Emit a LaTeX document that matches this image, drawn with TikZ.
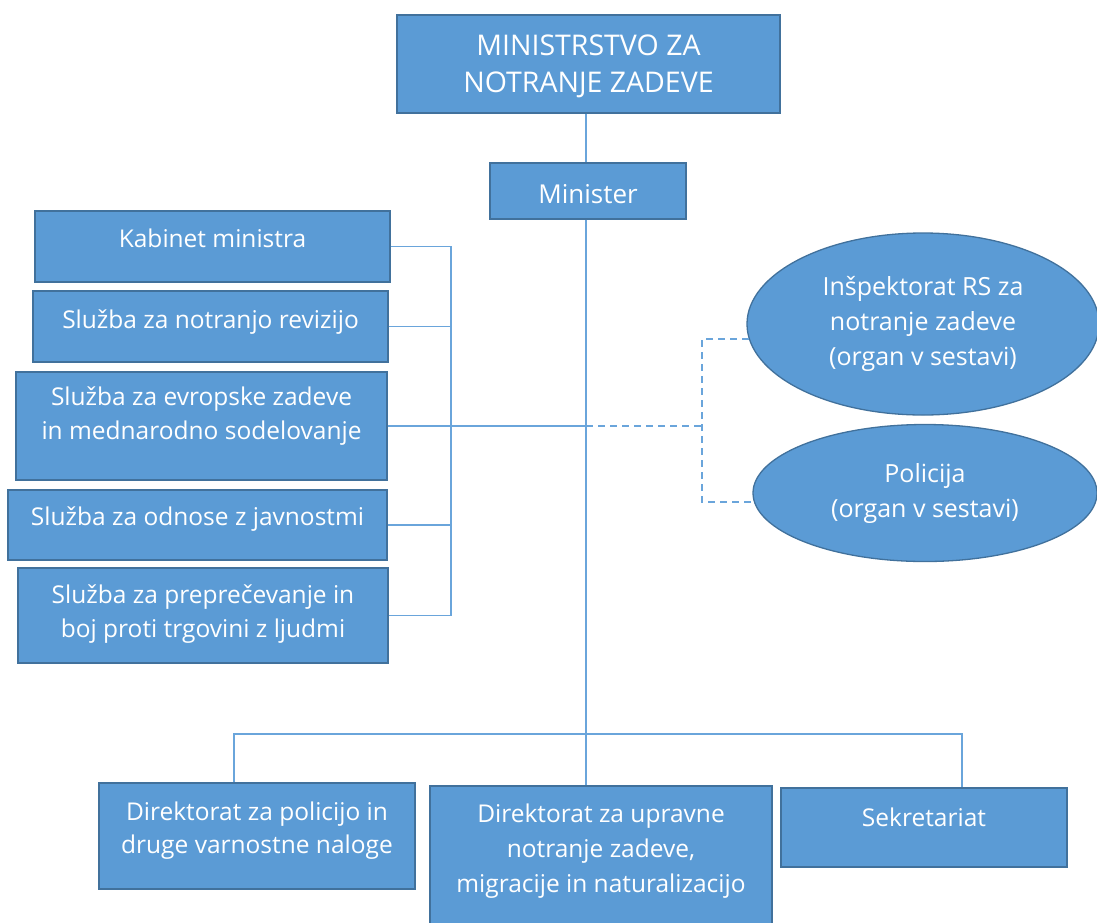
\documentclass[tikz,border=0pt]{standalone}
\usepackage{fontspec}
\setmainfont{Open Sans}
\usetikzlibrary{shapes.geometric}
\definecolor{boxfill}{HTML}{5B9BD5}
\definecolor{boxline}{HTML}{41719C}
\definecolor{connline}{HTML}{6AA5DB}
\newcommand\bxt[4]{\parbox[c][#2][t]{#1}{\centering\rule{0pt}{#3}#4}}
\tikzset{
  orgbox/.style={draw=boxline, line width=1.3pt, fill=boxfill, text=white, inner sep=0pt, rectangle},
  orgell/.style={draw=boxline, line width=1.3pt, fill=boxfill, text=white, inner sep=0pt, ellipse, align=center, font=\fontsize{25}{35}\selectfont},
  small/.style={font=\fontsize{24.5}{34}\selectfont},
  conn/.style={draw=connline, line width=1.8pt},
  dsh/.style={draw=connline, line width=1.8pt, dash pattern=on 7pt off 5pt}
}
\begin{document}
\begin{tikzpicture}[x=1pt,y=-1pt]
\useasboundingbox (0,0) rectangle (1097,922);
\clip (0,0) rectangle (1097,922);
% nodes
\node[orgbox, font=\fontsize{28.5}{37}\selectfont] (top) at (588.5,64) {\bxt{383pt}{98pt}{40pt}{MINISTRSTVO ZA\\NOTRANJE ZADEVE}};
\node[orgbox, font=\fontsize{26}{34}\selectfont] (min) at (588,191) {\bxt{196pt}{56pt}{40pt}{Minister}};
\node[orgbox, small] (k1) at (212.5,246.5) {\bxt{355pt}{71pt}{36pt}{Kabinet ministra}};
\node[orgbox, small] (k2) at (210.5,326.5) {\bxt{355pt}{71pt}{37pt}{Služba za notranjo revizijo}};
\node[orgbox, small] (k3) at (201.5,426) {\bxt{371pt}{108pt}{33pt}{Služba za evropske zadeve\\in mednarodno sodelovanje}};
\node[orgbox, small] (k4) at (197.5,525) {\bxt{379pt}{70pt}{35pt}{Služba za odnose z javnostmi}};
\node[orgbox, small] (k5) at (203,615.5) {\bxt{370pt}{95pt}{35pt}{Služba za preprečevanje in\\boj proti trgovini z ljudmi}};
\node[orgbox, font=\fontsize{24.5}{33}\selectfont] (b1) at (257,836) {\bxt{316pt}{106pt}{37pt}{Direktorat za policijo in\\druge varnostne naloge}};
\node[orgbox, font=\fontsize{24.5}{35}\selectfont] (b2) at (601,858) {\bxt{342pt}{144pt}{36pt}{Direktorat za upravne\\notranje zadeve,\\migracije in naturalizacijo}};
\node[orgbox, small] (b3) at (924,827.5) {\bxt{286pt}{79pt}{38pt}{Sekretariat}};
\node[orgell, minimum width=352pt, minimum height=182pt] (e1) at (923,324) {Inšpektorat RS za\\notranje zadeve\\(organ v sestavi)};
\node[orgell, minimum width=344pt, minimum height=137pt] (e2) at (925,493) {Policija\\(organ v sestavi)};
% helper coordinates
\coordinate (brk) at (451,0);
\coordinate (spine) at (586,0);
\coordinate (dj) at (702,0);
\coordinate (d1) at (234,734);
\coordinate (d3) at (962,734);
% connectors
\draw[conn] (top.south -| spine) -- (min.north -| spine);
\draw[conn] (min.south -| spine) -- (b2.north -| spine);
\draw[conn] (d1 |- b1.north) -- (d1) -- (d3) -- (d3 |- b3.north);
\draw[conn] (k1.east) -- (k1.east -| brk) -- (k5.east -| brk) -- (k5.east);
\draw[conn] (k2.east) -- (k2.east -| brk);
\draw[conn] (k4.east) -- (k4.east -| brk);
\draw[conn] (k3.east) -- (k3.east -| spine);
\draw[dsh] (k3.east -| spine) -- (k3.east -| dj);
\draw[dsh] (e1.185) -- (e1.185 -| dj) -- (e2.183 -| dj) -- (e2.183);
\end{tikzpicture}
\end{document}
